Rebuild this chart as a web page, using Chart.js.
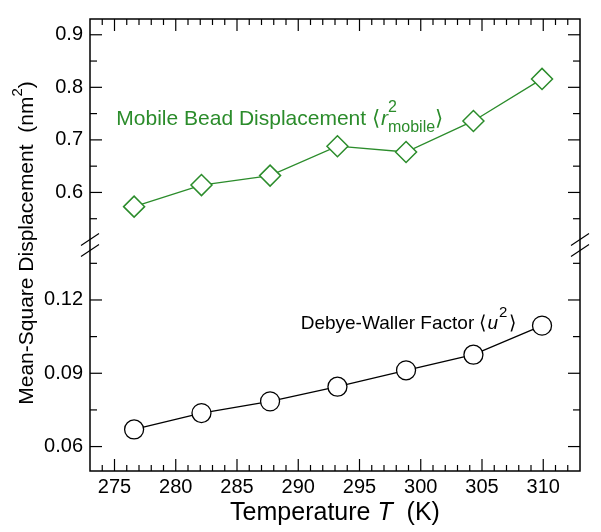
<!DOCTYPE html>
<html>
<head>
<meta charset="utf-8">
<script src="https://cdn.jsdelivr.net/npm/chart.js@4/dist/chart.umd.min.js"></script>
<style>
body { margin: 0; background: #fff; }
</style>
</head>
<body>
<canvas id="chart" width="601" height="532"></canvas>
<script>
// temperatures (K) of the simulations
var temperatures = [276.6, 282.1, 287.7, 293.2, 298.8, 304.3, 309.9];
// mobile bead displacement <r^2_mobile> (nm^2)
var mobileDisp = [0.573, 0.614, 0.632, 0.688, 0.677, 0.736, 0.816];
// Debye-Waller factor <u^2> (nm^2)
var debyeWaller = [0.0670, 0.0737, 0.0785, 0.0845, 0.0912, 0.0976, 0.1095];

var xTicks = [275, 280, 285, 290, 295, 300, 305, 310];
var topTicks = [0.6, 0.7, 0.8, 0.9];
var bottomTicks = [0.06, 0.09, 0.12];

var GREEN = '#2b8c2b';
var FONT = '"Liberation Sans", Arial, Helvetica, sans-serif';

function points(xs, ys) {
    var out = [];
    for (var i = 0; i < xs.length; i++) out.push({x: xs[i], y: ys[i]});
    return out;
}

function setTicks(values) {
    return function(scale) {
        scale.ticks = values.map(function(v) { return {value: v}; });
    };
}

function line(ctx, x1, y1, x2, y2) {
    ctx.beginPath();
    ctx.moveTo(x1, y1);
    ctx.lineTo(x2, y2);
    ctx.stroke();
}

// draws a list of text pieces one after another; dy shifts the baseline
function drawPieces(ctx, x, y, pieces, measureOnly) {
    var cx = x;
    for (var i = 0; i < pieces.length; i++) {
        var p = pieces[i];
        ctx.font = p.font;
        var w = ctx.measureText(p.t).width;
        if (!measureOnly) ctx.fillText(p.t, cx, y + (p.dy || 0));
        if (!p.noAdvance) cx += w + (p.kern || 0);
    }
    return cx - x;
}

var framePlugin = {
    id: 'frame',
    afterDraw: function(chart) {
        var ctx = chart.ctx, a = chart.chartArea;
        var xs = chart.scales.x, yt = chart.scales.yTop, yb = chart.scales.yBottom;
        ctx.save();
        ctx.strokeStyle = '#000';
        ctx.lineWidth = 1.5;
        ctx.strokeRect(a.left, a.top, a.right - a.left, a.bottom - a.top);

        ctx.lineWidth = 1.2;
        var t, px, len, k, v, py;
        for (t = 274; t <= 312; t++) {
            len = t % 5 === 0 ? 12 : 6;
            px = xs.getPixelForValue(t);
            line(ctx, px, a.bottom, px, a.bottom - len);
            line(ctx, px, a.top, px, a.top + len);
        }
        for (k = 11; k <= 18; k++) {
            v = k * 0.05;
            len = k % 2 === 0 ? 12 : 7;
            py = yt.getPixelForValue(v);
            line(ctx, a.left, py, a.left + len, py);
            line(ctx, a.right, py, a.right - len, py);
        }
        for (k = 4; k <= 9; k++) {
            v = k * 0.015;
            len = k % 2 === 0 ? 12 : 7;
            py = yb.getPixelForValue(v);
            line(ctx, a.left, py, a.left + len, py);
            line(ctx, a.right, py, a.right - len, py);
        }

        // axis break marks
        var brk = yt.bottom;
        [a.left, a.right].forEach(function(bx) {
            line(ctx, bx - 9, brk + 0.5, bx + 9, brk - 11.5);
            line(ctx, bx - 9, brk + 11.5, bx + 9, brk - 0.5);
        });

        // series labels
        ctx.textAlign = 'left';
        ctx.textBaseline = 'alphabetic';
        var g = '21px ' + FONT, gs = '16px ' + FONT;
        ctx.fillStyle = GREEN;
        var gx = xs.getPixelForValue(275.15), gy = yt.getPixelForValue(0.7276);
        drawPieces(ctx, gx, gy, [
            {t: 'Mobile Bead Displacement ', font: g},
            {t: '\u27E8', font: g, kern: 1},
            {t: 'r', font: 'italic ' + g},
            {t: '2', font: gs, dy: -13, noAdvance: true},
            {t: 'mobile', font: gs, dy: 7},
            {t: '\u27E9', font: g}
        ]);

        var b = '19px ' + FONT, bs = '15px ' + FONT;
        ctx.fillStyle = '#000';
        var bx = xs.getPixelForValue(290.2), by = yb.getPixelForValue(0.1082);
        drawPieces(ctx, bx, by, [
            {t: 'Debye-Waller Factor ', font: b},
            {t: '\u27E8', font: b, kern: 1},
            {t: 'u', font: 'italic ' + b, kern: 1},
            {t: '2', font: bs, dy: -12, kern: 2},
            {t: '\u27E9', font: b}
        ]);

        // x axis title
        var xt = [
            {t: 'Temperature ', font: '25px ' + FONT},
            {t: 'T', font: 'italic 25px ' + FONT},
            {t: '  (K)', font: '25px ' + FONT}
        ];
        var w = drawPieces(ctx, 0, 0, xt, true);
        drawPieces(ctx, (a.left + a.right) / 2 - w / 2, 520, xt);

        // y axis title
        var ytitle = [
            {t: 'Mean-Square Displacement  (nm', font: '21px ' + FONT},
            {t: '2', font: '15px ' + FONT, dy: -11},
            {t: ')', font: '21px ' + FONT}
        ];
        w = drawPieces(ctx, 0, 0, ytitle, true);
        ctx.translate(33, 243);
        ctx.rotate(-Math.PI / 2);
        drawPieces(ctx, -w / 2, 0, ytitle);
        ctx.restore();
    }
};

var tickFont = {family: FONT, size: 20};

new Chart(document.getElementById('chart'), {
    type: 'scatter',
    data: {
        datasets: [{
            data: points(temperatures, mobileDisp),
            yAxisID: 'yTop',
            showLine: true,
            borderColor: GREEN,
            borderWidth: 1.3,
            pointStyle: 'rectRot',
            pointRadius: 10.5,
            pointBorderWidth: 1.5,
            pointBackgroundColor: '#fff',
            pointBorderColor: GREEN
        }, {
            data: points(temperatures, debyeWaller),
            yAxisID: 'yBottom',
            showLine: true,
            borderColor: '#000',
            borderWidth: 1.3,
            pointStyle: 'circle',
            pointRadius: 9.5,
            pointBorderWidth: 1.3,
            pointBackgroundColor: '#fff',
            pointBorderColor: '#000'
        }]
    },
    options: {
        responsive: false,
        animation: false,
        devicePixelRatio: 1,
        layout: {padding: {top: 18, right: 21, left: 0, bottom: 0}},
        plugins: {legend: {display: false}, tooltip: {enabled: false}},
        scales: {
            x: {
                type: 'linear',
                min: 273,
                max: 313,
                grid: {display: false, drawTicks: false},
                border: {display: false},
                afterBuildTicks: setTicks(xTicks),
                afterFit: function(s) { s.height = 61; },
                ticks: {font: tickFont, color: '#000', padding: 4, maxRotation: 0}
            },
            // left boxes of a stack are laid out in reverse order, so the lower one comes first
            yBottom: {
                type: 'linear',
                position: 'left',
                stack: 'msd',
                stackWeight: 1,
                min: 0.05,
                max: 0.1425,
                offset: false,
                grid: {display: false, drawTicks: false},
                border: {display: false},
                afterBuildTicks: setTicks(bottomTicks),
                afterFit: function(s) { s.width = 90; },
                ticks: {font: tickFont, color: '#000', padding: 7,
                        callback: function(v) { return v.toFixed(2); }}
            },
            yTop: {
                type: 'linear',
                position: 'left',
                stack: 'msd',
                stackWeight: 1,
                min: 0.5,
                max: 0.93,
                offset: false,
                grid: {display: false, drawTicks: false},
                border: {display: false},
                afterBuildTicks: setTicks(topTicks),
                afterFit: function(s) { s.width = 90; },
                ticks: {font: tickFont, color: '#000', padding: 7,
                        callback: function(v) { return v.toFixed(1); }}
            }
        }
    },
    plugins: [framePlugin]
});
</script>
</body>
</html>
